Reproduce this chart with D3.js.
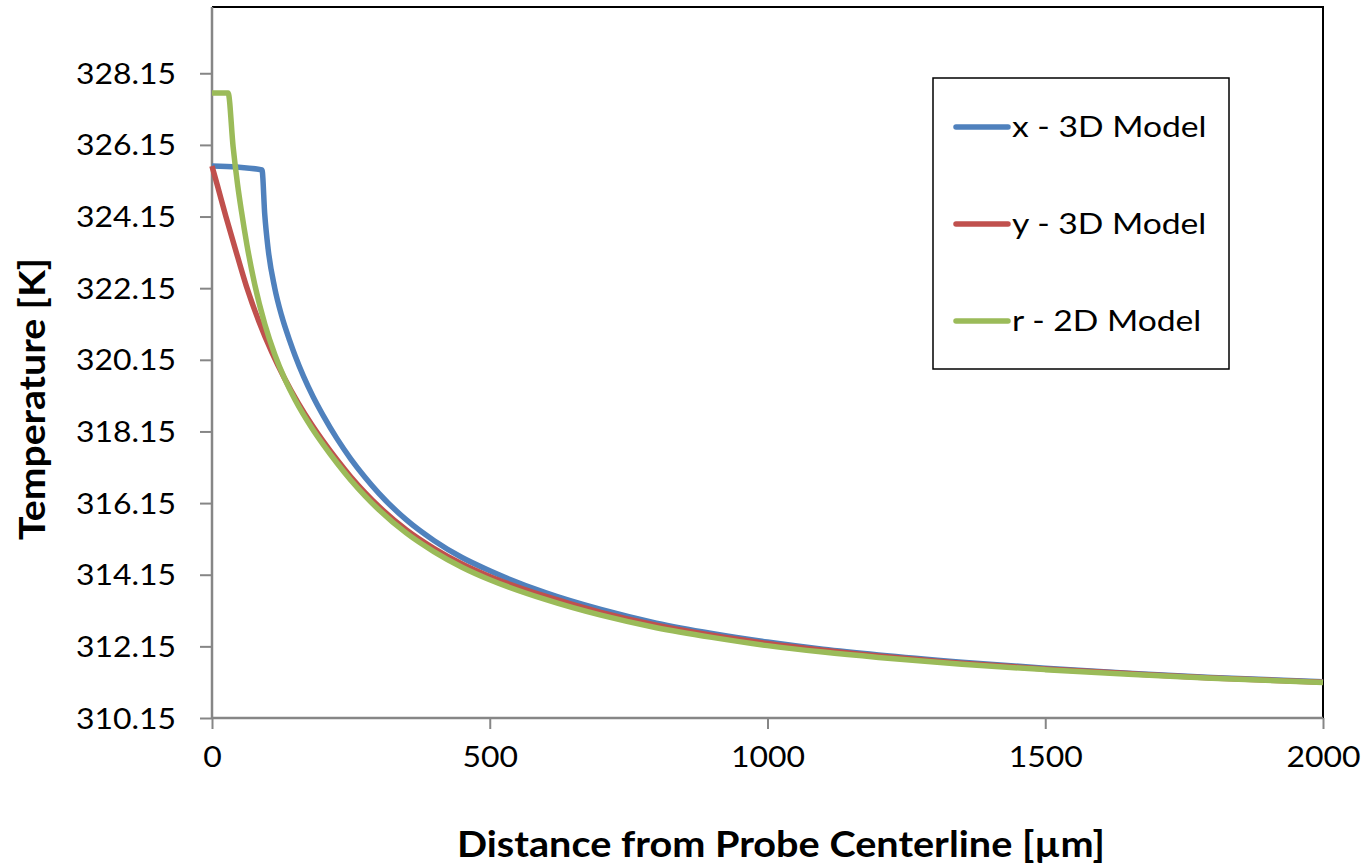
<!DOCTYPE html>
<html>
<head>
<meta charset="utf-8">
<script src="https://cdn.jsdelivr.net/npm/d3@7"></script>
<style>
  body { margin: 0; background: #fff; }
  text { font-family: Lato, "Open Sans", sans-serif; fill: #000; }
</style>
</head>
<body>
<svg id="chart" width="1366" height="866"></svg>
<script>
// distance from probe centerline (µm) and temperature (K)
const xDist = [0, 45, 90, 95, 101, 113, 125, 140, 150, 165, 182, 200, 225, 250, 275, 300, 350, 400, 450, 500, 600, 700, 800, 900, 1000, 1100, 1200, 1350, 1500, 1650, 1800, 2000];
const xTemp = [325.56, 325.53, 325.45, 324.2, 323.25, 322.15, 321.4, 320.68, 320.25, 319.68, 319.12, 318.6, 317.95, 317.38, 316.88, 316.43, 315.68, 315.1, 314.63, 314.26, 313.65, 313.18, 312.8, 312.51, 312.27, 312.07, 311.91, 311.71, 311.54, 311.4, 311.28, 311.16];

const yDist = [0, 10, 25, 40, 62, 85, 108, 130, 155, 180, 200, 225, 250, 275, 300, 350, 400, 450, 500, 600, 700, 800, 900, 1000, 1100, 1200, 1350, 1500, 1650, 1800, 2000];
const yTemp = [325.56, 325.0, 324.15, 323.35, 322.2, 321.2, 320.35, 319.65, 318.95, 318.33, 317.88, 317.36, 316.88, 316.45, 316.06, 315.4, 314.88, 314.45, 314.1, 313.55, 313.1, 312.74, 312.46, 312.23, 312.04, 311.88, 311.68, 311.52, 311.39, 311.27, 311.15];

const rDist = [0, 29, 38, 46, 53, 63, 77, 95, 113, 130, 150, 180, 200, 225, 250, 275, 300, 350, 400, 450, 500, 600, 700, 800, 900, 1000, 1100, 1200, 1350, 1500, 1650, 1800, 2000];
const rTemp = [327.6, 327.6, 326.1, 325.05, 324.3, 323.35, 322.25, 321.15, 320.3, 319.65, 319.02, 318.24, 317.79, 317.27, 316.79, 316.36, 315.97, 315.31, 314.79, 314.36, 314.01, 313.46, 313.02, 312.67, 312.4, 312.17, 311.99, 311.84, 311.65, 311.5, 311.37, 311.26, 311.14];

const seriesNames = ["x - 3D Model", "y - 3D Model", "r - 2D Model"];
const seriesColors = ["#4F81BD", "#C0504D", "#9BBB59"];
const xTicks = [0, 500, 1000, 1500, 2000];
const yTicks = [310.15, 312.15, 314.15, 316.15, 318.15, 320.15, 322.15, 324.15, 326.15, 328.15];

const series = [
  { name: seriesNames[0], color: seriesColors[0], pts: xDist.map((d, i) => [d, xTemp[i]]) },
  { name: seriesNames[1], color: seriesColors[1], pts: yDist.map((d, i) => [d, yTemp[i]]) },
  { name: seriesNames[2], color: seriesColors[2], pts: rDist.map((d, i) => [d, rTemp[i]]) }
];

const plotLeft = 212, plotRight = 1323, plotTop = 7, plotBottom = 718;

const x = d3.scaleLinear().domain([0, 2000]).range([plotLeft, plotRight]);
const y = d3.scaleLinear().domain([310.15, 330]).range([plotBottom, plotTop]);

const svg = d3.select("#chart");

// stretch text a little, the original is wider than the fonts we have
function widen(sel, k) {
  sel.each(function () {
    const w = this.getComputedTextLength();
    d3.select(this).attr("textLength", w * k).attr("lengthAdjust", "spacingAndGlyphs");
  });
}

// plot frame: black on top and right
svg.append("path")
  .attr("d", `M${plotLeft},${plotTop}H${plotRight}V${plotBottom}`)
  .attr("fill", "none")
  .attr("stroke", "#000")
  .attr("stroke-width", 2);

// y axis
const yAxis = svg.append("g")
  .attr("transform", `translate(${plotLeft},0)`)
  .call(d3.axisLeft(y).tickValues(yTicks).tickSize(12).tickPadding(24).tickFormat(d3.format(".2f")));
yAxis.select(".domain").attr("stroke", "#868686").attr("stroke-width", 2.5).attr("d", `M0,${plotTop}V${plotBottom}`);
yAxis.selectAll(".tick line").attr("stroke", "#868686").attr("stroke-width", 2);
yAxis.selectAll(".tick text")
  .attr("font-size", 28)
  .attr("dy", "0.36em")
  .style("font-family", "Lato, 'Open Sans', sans-serif");
widen(yAxis.selectAll(".tick text"), 1.14);

// x axis
const xAxis = svg.append("g")
  .attr("transform", `translate(0,${plotBottom})`)
  .call(d3.axisBottom(x).tickValues(xTicks).tickSize(11).tickPadding(18).tickFormat(d3.format("d")));
xAxis.select(".domain").attr("stroke", "#868686").attr("stroke-width", 2.5).attr("d", `M${plotLeft},0H${plotRight}`);
xAxis.selectAll(".tick line").attr("stroke", "#868686").attr("stroke-width", 2);
xAxis.selectAll(".tick text")
  .attr("font-size", 28)
  .attr("dy", "0.72em")
  .style("font-family", "Lato, 'Open Sans', sans-serif");
widen(xAxis.selectAll(".tick text"), 1.14);

// lines
const line = d3.line()
  .x(d => x(d[0]))
  .y(d => y(d[1]))
  .curve(d3.curveMonotoneX);

svg.append("g")
  .selectAll("path")
  .data(series)
  .enter().append("path")
  .attr("d", d => line(d.pts))
  .attr("fill", "none")
  .attr("stroke", d => d.color)
  .attr("stroke-width", 5.5)
  .attr("stroke-linejoin", "round");

// axis titles
const xTitle = svg.append("text")
  .attr("x", 781)
  .attr("y", 857)
  .attr("text-anchor", "middle")
  .attr("font-size", 37)
  .attr("font-weight", "bold")
  .text("Distance from Probe Centerline [µm]");
xTitle.attr("textLength", 648).attr("lengthAdjust", "spacingAndGlyphs");

const yTitle = svg.append("text")
  .attr("transform", "translate(45,399) rotate(-90)")
  .attr("text-anchor", "middle")
  .attr("font-size", 37)
  .attr("font-weight", "bold")
  .text("Temperature [K]");
yTitle.attr("textLength", 282).attr("lengthAdjust", "spacingAndGlyphs");

// legend
const legend = svg.append("g");
legend.append("rect")
  .attr("x", 933).attr("y", 78)
  .attr("width", 296).attr("height", 291)
  .attr("fill", "#fff")
  .attr("stroke", "#000")
  .attr("stroke-width", 1.5);

const items = legend.selectAll("g.item")
  .data(series)
  .enter().append("g")
  .attr("class", "item")
  .attr("transform", (d, i) => `translate(0,${127 + i * 97})`);

items.append("line")
  .attr("x1", 956).attr("x2", 1008)
  .attr("stroke", d => d.color)
  .attr("stroke-width", 5.5)
  .attr("stroke-linecap", "round");

const legendText = items.append("text")
  .attr("x", 1012)
  .attr("dy", "0.36em")
  .attr("font-size", 29)
  .text(d => d.name);
widen(legendText, 1.16);
</script>
</body>
</html>
